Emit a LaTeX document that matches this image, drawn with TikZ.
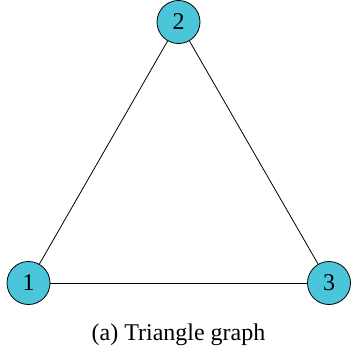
\documentclass[tikz,border=0pt]{standalone}
\usepackage{fontspec}
\setmainfont{Liberation Serif}
\definecolor{nodecyan}{RGB}{75,197,218}
\begin{document}
\begin{tikzpicture}[x=1pt,y=-1pt,
  vertex/.style={circle,draw=black,line width=0.8pt,fill=nodecyan,minimum size=43pt,inner sep=0pt,font=\fontsize{24}{28}\selectfont},
  edge/.style={draw=black,line width=0.8pt},
  caption/.style={anchor=base,font=\fontsize{24}{28}\selectfont}]
\useasboundingbox (0,0) rectangle (351,356);
\node[vertex] (n1) at (28.5,283) {1};
\node[vertex] (n2) at (178.5,22) {2};
\node[vertex] (n3) at (329,283) {3};
\path[edge] (n1) -- (n2);
\path[edge] (n2) -- (n3);
\path[edge] (n1) -- (n3);
\node[caption] (cap) at (178.5,340) {(a) Triangle graph};
\end{tikzpicture}
\end{document}
